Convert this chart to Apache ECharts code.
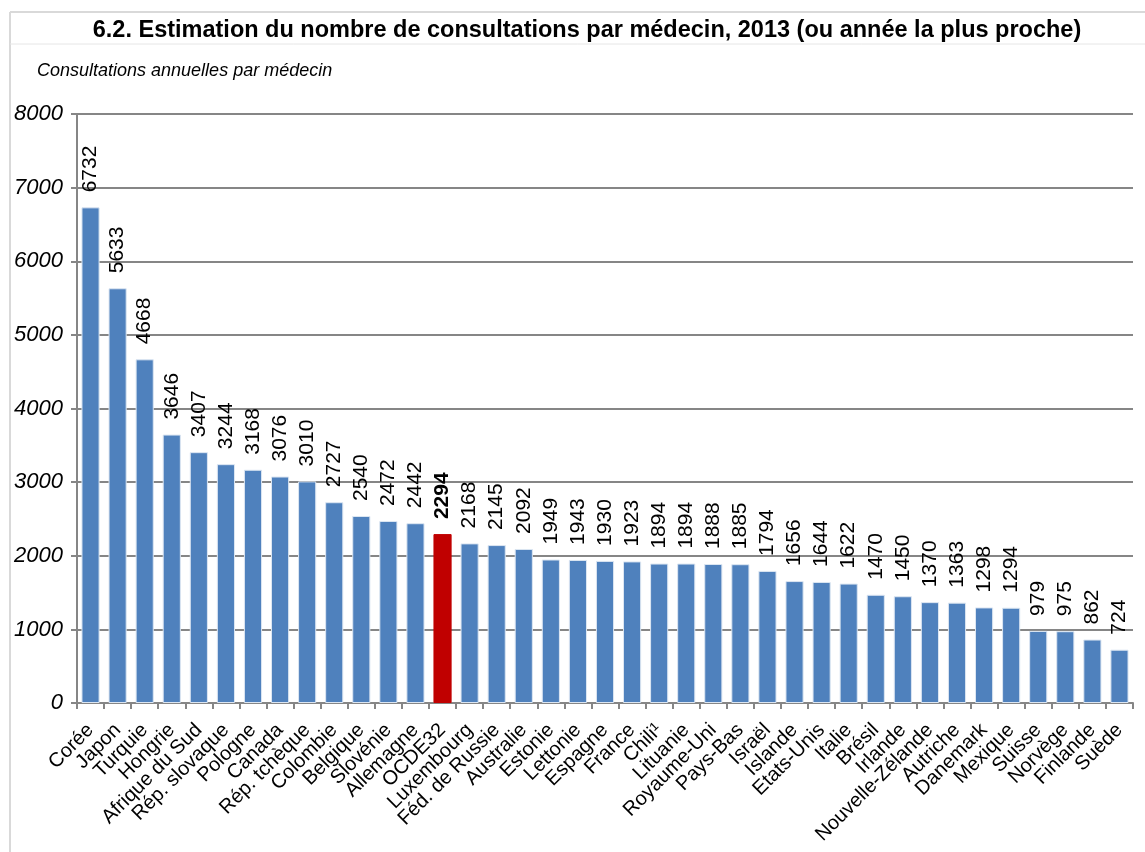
<!DOCTYPE html>
<html>
<head>
<meta charset="utf-8">
<script src="https://cdn.jsdelivr.net/npm/echarts@6/dist/echarts.min.js"></script>
<style>
html,body{margin:0;padding:0;background:#fff;}
#chart{width:1145px;height:852px;}
</style>
</head>
<body>
<div id="chart"></div>
<script>
const titleText = '6.2. Estimation du nombre de consultations par médecin, 2013 (ou année la plus proche)';
const yAxisTitle = 'Consultations annuelles par médecin';
const categories = ['Corée','Japon','Turquie','Hongrie','Afrique du Sud','Rép. slovaque','Pologne','Canada','Rép. tchèque','Colombie','Belgique','Slovénie','Allemagne','OCDE32','Luxembourg','Féd. de Russie','Australie','Estonie','Lettonie','Espagne','France','Chili¹','Lituanie','Royaume-Uni','Pays-Bas','Israël','Islande','Etats-Unis','Italie','Brésil','Irlande','Nouvelle-Zélande','Autriche','Danemark','Mexique','Suisse','Norvège','Finlande','Suède'];
const values = [6732,5633,4668,3646,3407,3244,3168,3076,3010,2727,2540,2472,2442,2294,2168,2145,2092,1949,1943,1930,1923,1894,1894,1888,1885,1794,1656,1644,1622,1470,1450,1370,1363,1298,1294,979,975,862,724];
const highlightCategory = 'OCDE32';
const yTicks = {min:0, max:8000, interval:1000};

const FONT = '"Liberation Sans", Arial, sans-serif';
const chart = echarts.init(document.getElementById('chart'), null, {renderer:'canvas'});

const seriesData = values.map((v, i) => {
  const hl = categories[i] === highlightCategory;
  return {
    value: v,
    itemStyle: hl ? {color:'#C00000', borderColor:'#C00000'} : undefined,
    label: hl ? {fontWeight:'bold'} : undefined
  };
});

chart.setOption({
  animation:false,
  backgroundColor:'#fff',
  graphic:[
    {type:'line', shape:{x1:10,y1:12,x2:1145,y2:12}, style:{stroke:'#d9d9d9', lineWidth:2}},
    {type:'line', shape:{x1:10,y1:12,x2:10,y2:852}, style:{stroke:'#d9d9d9', lineWidth:2}},
    {type:'line', shape:{x1:10,y1:44,x2:1145,y2:44}, style:{stroke:'#e6e6e6', lineWidth:1}},
    {type:'text', x:587, y:31, style:{text:titleText, font:'bold 23.5px ' + FONT, fill:'#000', align:'center', verticalAlign:'middle'}},
    {type:'text', x:37, y:71, style:{text:yAxisTitle, font:'italic 18px ' + FONT, fill:'#000', align:'left', verticalAlign:'middle'}}
  ],
  grid:{left:77, right:12, top:114, bottom:149, containLabel:false},
  xAxis:{
    type:'category',
    data:categories,
    boundaryGap:true,
    axisLine:{lineStyle:{color:'#868686', width:2}},
    axisTick:{show:true, length:6, alignWithLabel:false, lineStyle:{color:'#868686', width:2}},
    axisLabel:{rotate:45, interval:0, margin:24, fontFamily:FONT, fontSize:20, color:'#000'}
  },
  yAxis:{
    type:'value',
    min:yTicks.min, max:yTicks.max, interval:yTicks.interval,
    axisLine:{show:true, lineStyle:{color:'#868686', width:2}},
    axisTick:{show:true, length:6, lineStyle:{color:'#868686', width:2}},
    axisLabel:{fontFamily:FONT, fontSize:22, fontStyle:'italic', color:'#000', margin:14,
      formatter: v => String(v)},
    splitLine:{lineStyle:{color:'#868686', width:2}}
  },
  series:[{
    type:'bar',
    data:seriesData,
    barCategoryGap:'33%',
    itemStyle:{color:'#4F81BD', borderColor:'#DCE6F2', borderWidth:1},
    label:{
      show:true, position:'top', rotate:90, align:'left', verticalAlign:'middle',
      distance:15, fontFamily:FONT, fontSize:21, color:'#000'
    }
  }]
});
</script>
</body>
</html>
